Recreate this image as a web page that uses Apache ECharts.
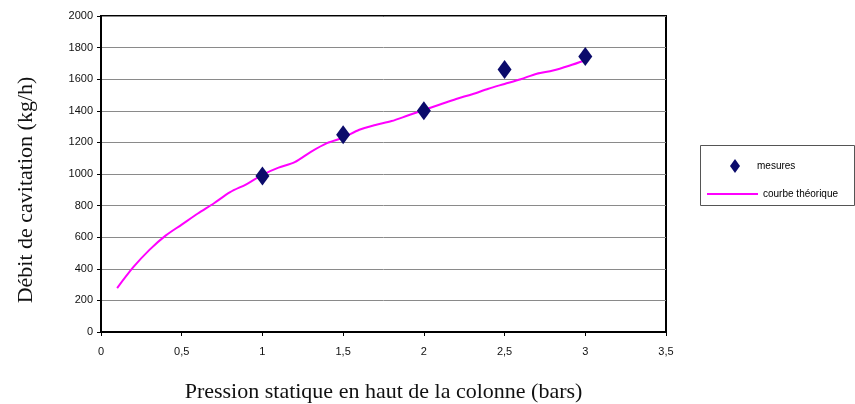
<!DOCTYPE html>
<html>
<head>
<meta charset="utf-8">
<script src="https://cdn.jsdelivr.net/npm/echarts@6/dist/echarts.min.js"></script>
<style>
html, body { margin: 0; padding: 0; background: #fff; }
#chart { width: 855px; height: 404px; }
</style>
</head>
<body>
<div id="chart"></div>
<script>
// mesures (pression en bars, debit en kg/h)
var mesuresX = [1, 1.5, 2, 2.5, 3];
var mesuresY = [987, 1248, 1400, 1662, 1743];

// courbe theorique
var courbeX = [0.1, 0.2, 0.3, 0.4, 0.5, 0.6, 0.7, 0.8, 0.9, 1.0,
               1.1, 1.2, 1.3, 1.4, 1.5, 1.6, 1.7, 1.8, 1.9, 2.0,
               2.1, 2.2, 2.3, 2.4, 2.5, 2.6, 2.7, 2.8, 2.9, 3.0];
var courbeY = [278, 410, 520, 610, 680, 750, 815, 885, 935, 995,
               1040, 1075, 1140, 1195, 1230, 1280, 1310, 1335, 1370, 1405,
               1440, 1475, 1505, 1540, 1570, 1600, 1635, 1655, 1685, 1720];

var narrow = "'Liberation Sans Narrow', 'Arial Narrow', 'Liberation Sans', sans-serif";
var serif = "'Liberation Serif', 'Times New Roman', serif";

var Page = function(){

	var initChart = function(){
		var chart = echarts.init(document.getElementById('chart'));
		var option = {
			animation: false,
			backgroundColor: '#fff',
			grid: {
				left: 101, right: 189, top: 16, bottom: 72,
				containLabel: false, outerBoundsMode: 'none',
				show: true, borderColor: '#000', borderWidth: 2
			},
			legend: [
				{
					left: 725, top: 154,
					data: ['mesures'],
					icon: 'diamond',
					itemWidth: 10, itemHeight: 14,
					itemStyle: { opacity: 1 },
					textStyle: { fontFamily: narrow, fontSize: 10, color: '#000', padding: [0, 0, 0, 12] }
				},
				{
					left: 702, top: 184,
					data: ['courbe théorique'],
					icon: 'rect',
					itemWidth: 51, itemHeight: 2,
					textStyle: { fontFamily: narrow, fontSize: 10, color: '#000' }
				}
			],
			graphic: [{
				type: 'rect',
				left: 698, top: 143,
				shape: { width: 154, height: 60 },
				style: { fill: 'none', stroke: '#555', lineWidth: 1 }
			}],
			xAxis: {
				type: 'value',
				min: 0, max: 3.5, interval: 0.5,
				name: 'Pression statique en haut de la colonne (bars)',
				nameLocation: 'middle', nameGap: 49,
				nameTextStyle: { fontFamily: serif, fontSize: 22, color: '#111' },
				axisLine: { show: true, lineStyle: { color: '#000', width: 2 } },
				axisTick: { show: true, length: 4, lineStyle: { color: '#000' } },
				axisLabel: {
					margin: 14, fontFamily: narrow, fontSize: 11, color: '#111',
					formatter: function(v){ return String(v).replace('.', ','); }
				},
				splitLine: { show: false }
			},
			yAxis: {
				type: 'value',
				min: 0, max: 2000, interval: 200,
				name: 'Débit de cavitation (kg/h)',
				nameLocation: 'middle', nameGap: 64,
				nameTextStyle: { fontFamily: serif, fontSize: 22, color: '#111', padding: [0, 32, 0, 0] },
				axisLine: { show: true, lineStyle: { color: '#000', width: 2 } },
				axisTick: { show: true, length: 4, lineStyle: { color: '#000' } },
				axisLabel: {
					margin: 8, fontFamily: narrow, fontSize: 11, color: '#111',
					formatter: function(v){ return String(v); }
				},
				splitLine: { show: true, lineStyle: { color: '#8a8a8a', width: 1 } }
			},
			series: [
				{
					name: 'courbe théorique',
					type: 'line',
					smooth: 0.3,
					showSymbol: false,
					itemStyle: { color: '#ff00ff' },
					lineStyle: { color: '#ff00ff', width: 2 },
					data: courbeX.map(function(x, i){ return [x, courbeY[i]]; })
				},
				{
					name: 'mesures',
					type: 'scatter',
					symbol: 'diamond',
					symbolSize: [14, 19],
					itemStyle: { color: '#0b0b6b', opacity: 1 },
					z: 3,
					data: mesuresX.map(function(x, i){ return [x, mesuresY[i]]; })
				}
			]
		};
		chart.setOption(option);
	};

	return {
		init: function(){
			initChart();
		}
	};
}();

Page.init();
</script>
</body>
</html>
